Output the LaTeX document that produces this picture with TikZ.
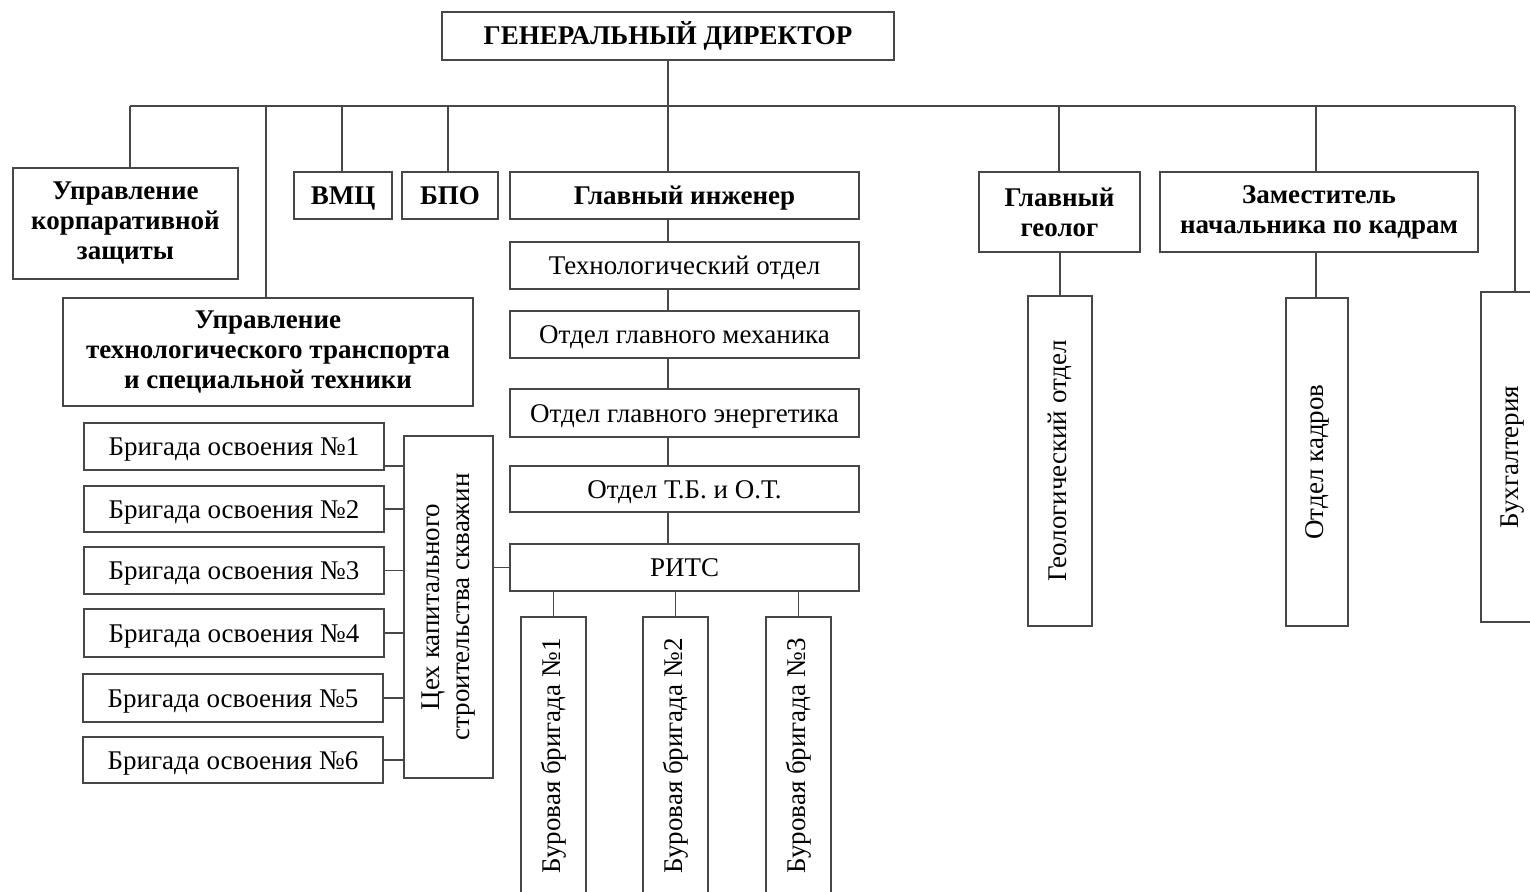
\documentclass[tikz,border=0pt]{standalone}
\usepackage{fontspec}
\setmainfont{Liberation Serif}
\begin{document}
\begin{tikzpicture}[x=1pt,y=-1pt,
  box/.style={draw=black!72, line width=1.9pt, inner sep=0pt, align=center,
    font=\fontsize{27}{30}\selectfont, text=black},
  bbox/.style={box, font=\fontsize{27}{30}\selectfont\bfseries},
  one/.style={text height=18pt, text depth=0pt},
  con/.style={draw=black!72, line width=1.9pt}]
\useasboundingbox (0,0) rectangle (1530,891);
\clip (0,0) rectangle (1530,891);
\fill[white] (0,0) rectangle (1530,891);

% top
\node[bbox, one, minimum width=452pt, minimum height=48pt] (gd) at (668,36) {ГЕНЕРАЛЬНЫЙ ДИРЕКТОР};

% second level
\node[bbox, minimum width=225pt, minimum height=111pt] (ukz) at (125.5,223.5) {Управление\\корпаративной\\защиты};
\node[bbox, minimum width=410pt, minimum height=108pt] (utt) at (268,352) {Управление\\технологического транспорта\\и специальной техники};
\node[bbox, one, minimum width=98pt, minimum height=47pt] (vmc) at (343,195.5) {ВМЦ};
\node[bbox, one, minimum width=96pt, minimum height=47pt] (bpo) at (450,195.5) {БПО};
\node[bbox, one, minimum width=349pt, minimum height=47pt] (gi) at (684.5,195.5) {Главный инженер};
\node[bbox, minimum width=161pt, minimum height=80pt] (geolog) at (1059.5,212) {Главный\\геолог};
\node[bbox, minimum width=318pt, minimum height=80pt] (zam) at (1319,212) {Заместитель\\начальника по кадрам};

% chief engineer column
\node[box, one, minimum width=349pt, minimum height=47pt] (tech) at (684.5,265.5) {Технологический отдел};
\node[box, one, minimum width=349pt, minimum height=47pt] (mech) at (684.5,334.5) {Отдел главного механика};
\node[box, one, minimum width=349pt, minimum height=48pt] (energ) at (684.5,413) {Отдел главного энергетика};
\node[box, one, minimum width=349pt, minimum height=46pt] (tbot) at (684.5,489) {Отдел Т.Б. и О.Т.};
\node[box, one, minimum width=349pt, minimum height=47pt] (rits) at (684.5,567.5) {РИТС};

% drilling brigades
\node[box, minimum width=65pt, minimum height=278pt] (bur1) at (553.5,756) {\rotatebox{90}{Буровая бригада №1}};
\node[box, minimum width=65pt, minimum height=278pt] (bur2) at (675.5,756) {\rotatebox{90}{Буровая бригада №2}};
\node[box, minimum width=65pt, minimum height=278pt] (bur3) at (798.5,756) {\rotatebox{90}{Буровая бригада №3}};

% workshop and brigades
\node[box, minimum width=89pt, minimum height=342pt] (cex) at (448.5,607)
  {\rotatebox{90}{\begin{tabular}{@{}c@{}}Цех капитального\\строительства скважин\end{tabular}}};
\node[box, one, minimum width=300pt, minimum height=47pt] (br1) at (234,446.5) {Бригада освоения №1};
\node[box, one, minimum width=300pt, minimum height=46pt] (br2) at (234,509) {Бригада освоения №2};
\node[box, one, minimum width=300pt, minimum height=47pt] (br3) at (234,570.5) {Бригада освоения №3};
\node[box, one, minimum width=300pt, minimum height=48pt] (br4) at (234,633) {Бригада освоения №4};
\node[box, one, minimum width=300pt, minimum height=48pt] (br5) at (233,698) {Бригада освоения №5};
\node[box, one, minimum width=300pt, minimum height=46pt] (br6) at (233,760) {Бригада освоения №6};

% right departments
\node[box, minimum width=64pt, minimum height=330pt] (geold) at (1060,461) {\rotatebox{90}{Геологический отдел}};
\node[box, minimum width=62pt, minimum height=328pt] (kadr) at (1317,462) {\rotatebox{90}{Отдел кадров}};
\node[box, minimum width=64pt, minimum height=330pt] (buh) at (1513,457) {\rotatebox{90}{Бухгалтерия}};

% bus coordinates
\coordinate (b1) at (130,106);
\coordinate (b2) at (266,106);
\coordinate (b3) at (342,106);
\coordinate (b4) at (448,106);
\coordinate (b5) at (1059,106);
\coordinate (b6) at (1316,106);
\coordinate (bR) at (1515,106);
\coordinate (spine) at (668,106);
\coordinate (k1) at (384,466);

% connectors
\draw[con] (b1) -- (bR);
\draw[con] (gd.south) -- (gd.south |- gi.north);
\draw[con] (b1) -- (b1 |- ukz.north);
\draw[con] (b2) -- (b2 |- utt.north);
\draw[con] (b3) -- (b3 |- vmc.north);
\draw[con] (b4) -- (b4 |- bpo.north);
\draw[con] (b5) -- (b5 |- geolog.north);
\draw[con] (b6) -- (b6 |- zam.north);
\draw[con] (bR) -- (bR |- buh.north);

\draw[con] (spine |- gi.south) -- (spine |- tech.north);
\draw[con] (spine |- tech.south) -- (spine |- mech.north);
\draw[con] (spine |- mech.south) -- (spine |- energ.north);
\draw[con] (spine |- energ.south) -- (spine |- tbot.north);
\draw[con] (spine |- tbot.south) -- (spine |- rits.north);

\draw[con] (bur1.north |- rits.south) -- (bur1.north);
\draw[con] (bur2.north |- rits.south) -- (bur2.north);
\draw[con] (bur3.north |- rits.south) -- (bur3.north);

\draw[con] (rits.west) -- (rits.west -| cex.east);
\draw[con] (k1) -- (k1 -| cex.west);
\draw[con] (br2.east) -- (br2.east -| cex.west);
\draw[con] (br3.east) -- (br3.east -| cex.west);
\draw[con] (br4.east) -- (br4.east -| cex.west);
\draw[con] (br5.east) -- (br5.east -| cex.west);
\draw[con] (br6.east) -- (br6.east -| cex.west);

\draw[con] (geolog.south -| geold.north) -- (geold.north);
\draw[con] (b6 |- zam.south) -- (b6 |- kadr.north);
\end{tikzpicture}
\end{document}
